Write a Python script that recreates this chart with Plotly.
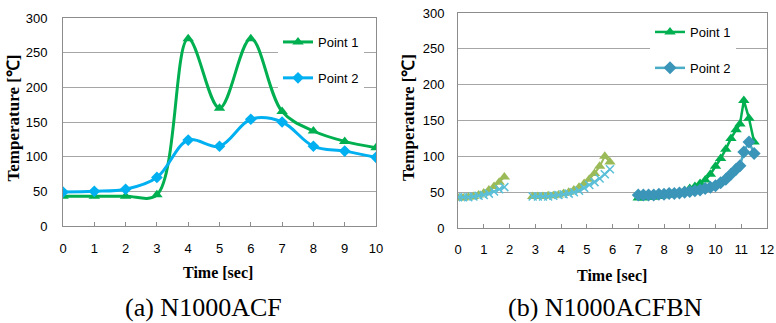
import plotly.graph_objects as go

W, H = 776, 323

# ---------- (a) N1000ACF ----------
a_time = [0, 1, 2, 3, 4, 5, 6, 7, 8, 9, 10]
a_point1 = [43, 43, 43, 45, 270, 170, 270, 165, 137, 122, 113]
a_point2 = [49, 50, 53, 70, 124, 115, 154, 150, 115, 108, 99]

# ---------- (b) N1000ACFBN ----------
b1_time = [0.0, 0.2, 0.4, 0.6, 0.8, 1.0, 1.2, 1.4, 1.6, 1.8]
b1_point1 = [42, 42, 43, 44, 46, 49, 53, 58, 64, 71]
b1_point2 = [43, 43, 43, 44, 45, 46, 48, 51, 54, 57]

b2_time = [2.9, 3.1, 3.3, 3.5, 3.7, 3.9, 4.1, 4.3, 4.5, 4.7, 4.9, 5.1, 5.3, 5.5, 5.7, 5.9]
b2_point1 = [44, 44, 44, 45, 45, 46, 48, 50, 53, 57, 62, 68, 76, 86, 100, 92]
b2_point2 = [44, 44, 44, 44, 45, 46, 47, 48, 50, 52, 56, 60, 64, 69, 75, 82]

b3_time = [7.0, 7.2, 7.4, 7.6, 7.8, 8.0, 8.2, 8.4, 8.6, 8.8, 9.0, 9.2, 9.4, 9.6,
           9.8, 10.0, 10.2, 10.4, 10.6, 10.8, 10.95, 11.1, 11.3, 11.5]
b3_point1 = [42, 42, 43, 43, 44, 45, 46, 48, 50, 52, 55, 58, 62, 67,
             75, 86, 97, 110, 125, 137, 145, 178, 153, 120]
b3_point2 = [46, 46, 46, 46, 47, 47, 48, 48, 49, 50, 51, 52, 53, 55,
             57, 59, 63, 68, 75, 82, 87, 106, 120, 104]

y_ticks = [0, 50, 100, 150, 200, 250, 300]
a_x_ticks = [0, 1, 2, 3, 4, 5, 6, 7, 8, 9, 10]
b_x_ticks = [0, 1, 2, 3, 4, 5, 6, 7, 8, 9, 10, 11, 12]

GREEN = "#00B050"
BLUE = "#00B0F0"
TEAL = "#4BACC6"
TEAL_M = "#3A95B8"
OLIVE = "#9BBB59"
XBLUE = "#5BBFD8"

SANS = "Liberation Sans"
SERIF = "Liberation Serif"

fig = go.Figure()

# left chart
fig.add_trace(go.Scatter(x=a_time, y=a_point1, name="Point 1", mode="lines+markers",
                         line=dict(color=GREEN, width=3, shape="spline", smoothing=1.0),
                         marker=dict(symbol="triangle-up", size=10, color=GREEN),
                         xaxis="x", yaxis="y", legend="legend", legendgroup="a1"))
fig.add_trace(go.Scatter(x=a_time, y=a_point2, name="Point 2", mode="lines+markers",
                         line=dict(color=BLUE, width=3, shape="spline", smoothing=1.0),
                         marker=dict(symbol="diamond", size=9, color=BLUE),
                         xaxis="x", yaxis="y", legend="legend", legendgroup="a2"))

# right chart: first two segments (no legend)
for tx, p1, p2 in [(b1_time, b1_point1, b1_point2), (b2_time, b2_point1, b2_point2)]:
    fig.add_trace(go.Scatter(x=tx, y=p1, mode="lines+markers", showlegend=False,
                             line=dict(color=OLIVE, width=2),
                             marker=dict(symbol="triangle-up", size=10, color=OLIVE),
                             xaxis="x2", yaxis="y2"))
    fig.add_trace(go.Scatter(x=tx, y=p2, mode="lines+markers", showlegend=False,
                             line=dict(color=XBLUE, width=2),
                             marker=dict(symbol="x-thin", size=8, color=XBLUE,
                                         line=dict(color=XBLUE, width=1.5)),
                             xaxis="x2", yaxis="y2"))

fig.add_trace(go.Scatter(x=b3_time, y=b3_point1, name="Point 1", mode="lines+markers",
                         line=dict(color=GREEN, width=2.5),
                         marker=dict(symbol="triangle-up", size=10, color=GREEN),
                         xaxis="x2", yaxis="y2", legend="legend2", legendgroup="b1"))
fig.add_trace(go.Scatter(x=b3_time, y=b3_point2, name="Point 2", mode="lines+markers",
                         line=dict(color=TEAL, width=2.5),
                         marker=dict(symbol="diamond", size=10, color=TEAL_M),
                         xaxis="x2", yaxis="y2", legend="legend2", legendgroup="b2"))

def px_x(p):
    return p / W

def px_y(p):
    return 1 - p / H

axis_common = dict(showline=True, linecolor="#8C8C8C", linewidth=1, mirror=True,
                   zeroline=False, tickfont=dict(family=SANS, size=13, color="#000"))

fig.update_layout(
    width=W, height=H, margin=dict(l=0, r=0, t=0, b=0, autoexpand=False),
    paper_bgcolor="white", plot_bgcolor="white",
    xaxis=dict(domain=[px_x(63), px_x(376)], range=[0, 10], tickvals=a_x_ticks,
               ticks="inside", ticklen=4, tickcolor="#8C8C8C", showgrid=False,
               anchor="y", ticklabelstandoff=10, automargin=False, **axis_common),
    yaxis=dict(domain=[px_y(226), px_y(18)], range=[0, 300], tickvals=y_ticks,
               ticks="", showgrid=True, gridcolor="#A6A6A6", gridwidth=1,
               anchor="x", ticklabelstandoff=12, automargin=False, **axis_common),
    xaxis2=dict(domain=[px_x(458), px_x(767)], range=[0, 12], tickvals=b_x_ticks,
                ticks="inside", ticklen=4, tickcolor="#8C8C8C", showgrid=False,
                anchor="y2", ticklabelstandoff=9, automargin=False, **axis_common),
    yaxis2=dict(domain=[px_y(228), px_y(13)], range=[0, 300], tickvals=y_ticks,
                ticks="", showgrid=True, gridcolor="#A6A6A6", gridwidth=1,
                anchor="x2", ticklabelstandoff=10, automargin=False, **axis_common),
    legend=dict(x=px_x(278), y=px_y(27), xanchor="left", yanchor="top",
                bgcolor="white", borderwidth=0, tracegroupgap=16,
                font=dict(family=SANS, size=13, color="#000"), itemwidth=30),
    legend2=dict(x=px_x(650), y=px_y(17), xanchor="left", yanchor="top",
                 bgcolor="white", borderwidth=0, tracegroupgap=16,
                 font=dict(family=SANS, size=13, color="#000"), itemwidth=30),
    showlegend=True,
)

def label(text, cx, cy, size, angle=0):
    return dict(text=text, x=px_x(cx), y=px_y(cy), xref="paper", yref="paper",
                xanchor="center", yanchor="middle", textangle=angle, showarrow=False,
                font=dict(family=SERIF, size=size, color="#000"))

ann = [
    label("<b>Temperature [℃]</b>", 12.5, 118, 17, -90),
    label("<b>Temperature [℃]</b>", 408, 118, 17, -90),
    label("<b>Time [sec]</b>", 218, 272, 16),
    label("<b>Time [sec]</b>", 612, 275, 16),
    label("(a) N1000ACF", 203, 307, 26),
    label("(b) N1000ACFBN", 605, 307, 26),
]
fig.update_layout(annotations=ann)

fig.write_html("out.html")
